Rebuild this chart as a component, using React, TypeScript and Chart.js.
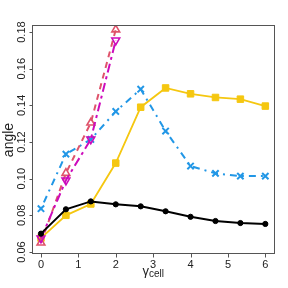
import React, { useEffect, useRef } from "react";
import { Chart, registerables } from "chart.js";

Chart.register(...registerables);

// gamma_cell values
const xValues = [0, 0.667, 1.333, 2, 2.667, 3.333, 4, 4.667, 5.333, 6];
// series (angle)
const blackSeries = [0.0700, 0.0833, 0.0876, 0.0860, 0.0849, 0.0822, 0.0792, 0.0769, 0.0758, 0.0753];
const yellowSeries = [0.0676, 0.0800, 0.0862, 0.1085, 0.1390, 0.1495, 0.1463, 0.1443, 0.1434, 0.1396];
const blueSeries = [0.0836, 0.1134, 0.1214, 0.1367, 0.1488, 0.1260, 0.1069, 0.1029, 0.1014, 0.1014];
const redSeries = [0.0650, 0.1030, 0.1305, 0.1813];
const magentaSeries = [0.0675, 0.0991, 0.1215, 0.1755];

// tick values and labels
const xTickValues = [0, 1, 2, 3, 4, 5, 6];
const xTickLabels = ["0", "1", "2", "3", "4", "5", "6"];
const yTickValues = [0.06, 0.08, 0.10, 0.12, 0.14, 0.16, 0.18];
const yTickLabels = ["0.06", "0.08", "0.10", "0.12", "0.14", "0.16", "0.18"];
const xLabelMain = "γ";
const xLabelSub = "cell";
const yLabel = "angle";

const FONT = "'Liberation Sans', Arial, Helvetica, sans-serif";

export default function App() {
  const ref = useRef<HTMLCanvasElement>(null);

  useEffect(() => {
    if (!ref.current) return;
    const pts = (ys: number[]) => ys.map((y, i) => ({ x: xValues[i], y }));

    const framePlugin = {
      id: "frame",
      afterDraw(chart: any) {
        const { ctx, chartArea: a, scales } = chart;
        const xs = scales.x;
        const ys = scales.y;
        ctx.save();
        ctx.strokeStyle = "#555";
        ctx.lineWidth = 1;
        const L = Math.round(a.left) + 0.5;
        const T = Math.round(a.top) - 0.5;
        const R = Math.round(a.right) + 0.5;
        const B = Math.round(a.bottom) - 0.5;
        ctx.strokeRect(L, T, R - L, B - T);

        ctx.fillStyle = "#222";
        ctx.font = `11px ${FONT}`;
        // y ticks
        ys.ticks.forEach((t: any, i: number) => {
          const p = Math.round(ys.getPixelForValue(t.value)) + 0.5;
          ctx.beginPath();
          ctx.moveTo(L - 3, p);
          ctx.lineTo(L, p);
          ctx.stroke();
          ctx.save();
          ctx.translate(25, ys.getPixelForValue(t.value));
          ctx.rotate(-Math.PI / 2);
          ctx.textAlign = "center";
          ctx.textBaseline = "alphabetic";
          ctx.fillText(t.label, 0, 0);
          ctx.restore();
        });
        // x ticks
        xs.ticks.forEach((t: any) => {
          const p = Math.round(xs.getPixelForValue(t.value)) + 0.5;
          ctx.beginPath();
          ctx.moveTo(p, B);
          ctx.lineTo(p, B + 4);
          ctx.stroke();
          ctx.textAlign = "center";
          ctx.textBaseline = "alphabetic";
          ctx.fillText(t.label, xs.getPixelForValue(t.value), 268);
        });

        // y title
        ctx.save();
        ctx.translate(12.5, (a.top + a.bottom) / 2);
        ctx.rotate(-Math.PI / 2);
        ctx.font = `14px ${FONT}`;
        ctx.textAlign = "center";
        ctx.textBaseline = "alphabetic";
        ctx.fillText(yLabel, 0, 0);
        ctx.restore();

        // x title with subscript
        ctx.font = `13px ${FONT}`;
        const w1 = ctx.measureText(xLabelMain).width;
        ctx.font = `10px ${FONT}`;
        const w2 = ctx.measureText(xLabelSub).width;
        const cx = (a.left + a.right) / 2;
        const start = cx - (w1 + w2) / 2;
        ctx.textAlign = "left";
        ctx.font = `13px ${FONT}`;
        ctx.fillText(xLabelMain, start, 274.5);
        ctx.font = `10px ${FONT}`;
        ctx.fillText(xLabelSub, start + w1, 277);
        ctx.restore();
      },
    };

    const chart = new Chart(ref.current, {
      type: "scatter",
      data: {
        datasets: [
          {
            label: "black",
            data: pts(blackSeries),
            showLine: true,
            borderColor: "#000000",
            backgroundColor: "#000000",
            borderWidth: 2,
            pointStyle: "circle",
            pointRadius: 2.6,
            pointBorderWidth: 1,
            pointBackgroundColor: "#000000",
            pointBorderColor: "#000000",
          },
          {
            label: "down",
            data: pts(magentaSeries),
            showLine: true,
            borderColor: "#CD0BBC",
            backgroundColor: "transparent",
            borderWidth: 2,
            borderDash: [9, 4, 3, 4],
            pointStyle: "triangle",
            pointRotation: 180,
            pointRadius: 4.5,
            pointBorderWidth: 1.6,
            pointBackgroundColor: "transparent",
            pointBorderColor: "#CD0BBC",
          },
          {
            label: "up",
            data: pts(redSeries),
            showLine: true,
            borderColor: "#DF536B",
            backgroundColor: "transparent",
            borderWidth: 2,
            borderDash: [6, 5],
            pointStyle: "triangle",
            pointRadius: 4.5,
            pointBorderWidth: 1.6,
            pointBackgroundColor: "transparent",
            pointBorderColor: "#DF536B",
          },
          {
            label: "blue",
            data: pts(blueSeries),
            showLine: true,
            borderColor: "#2297E6",
            backgroundColor: "#2297E6",
            borderWidth: 2,
            borderDash: [2, 5, 7, 5],
            pointStyle: "crossRot",
            pointRadius: 4.5,
            pointBorderWidth: 2,
            pointBorderColor: "#2297E6",
          },
          {
            label: "yellow",
            data: pts(yellowSeries),
            showLine: true,
            borderColor: "#F5C710",
            backgroundColor: "#F5C710",
            borderWidth: 1.8,
            pointStyle: "rect",
            pointRadius: 4.6,
            pointBorderWidth: 1,
            pointBackgroundColor: "#F5C710",
            pointBorderColor: "#F5C710",
          },
        ],
      },
      options: {
        animation: false,
        responsive: false,
        events: [],
        layout: { padding: { left: 32, top: 26, right: 13.7, bottom: 34 } },
        plugins: { legend: { display: false }, tooltip: { enabled: false } },
        scales: {
          x: {
            type: "linear",
            min: -0.24,
            max: 6.24,
            display: false,
            afterBuildTicks: (scale: any) => {
              scale.ticks = xTickValues.map((v, i) => ({ value: v, label: xTickLabels[i] }));
            },
          },
          y: {
            type: "linear",
            min: 0.0589,
            max: 0.1833,
            display: false,
            afterBuildTicks: (scale: any) => {
              scale.ticks = yTickValues.map((v, i) => ({ value: v, label: yTickLabels[i] }));
            },
          },
        },
      },
      plugins: [framePlugin],
    } as any);

    return () => chart.destroy();
  }, []);

  return (
    <div style={{ position: "fixed", left: 0, top: 0, width: 288, height: 288, background: "#fff" }}>
      <canvas ref={ref} width={288} height={288} style={{ width: 288, height: 288 }} />
    </div>
  );
}
